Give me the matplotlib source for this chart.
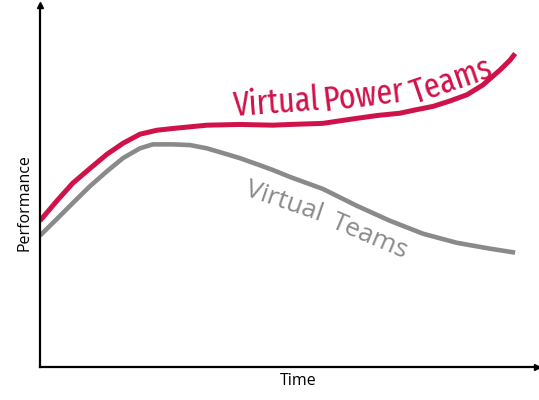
import matplotlib
matplotlib.use("Agg")
import matplotlib.pyplot as plt

# values (time 0-100, performance 0-100)
time_power = [0, 3.4, 6.6, 10.1, 13.5, 16.7, 20.1, 23.5, 26.8, 33.6, 40.2, 46.9,
              50.3, 56.9, 63.8, 68.0, 72.4, 75.8, 79.1, 82.5, 85.9, 89.1, 92.6, 94.6, 95.6]
perf_power = [40.4, 45.9, 50.8, 54.9, 58.8, 61.8, 64.3, 65.4, 65.9, 66.8, 67.0, 66.8,
              67.0, 67.3, 68.7, 69.5, 70.1, 71.1, 72.0, 73.5, 75.2, 77.9, 82.1, 84.8, 86.6]

time_virtual = [0, 3.4, 6.6, 10.1, 13.5, 16.7, 20.1, 22.7, 26.8, 30.2, 33.6, 36.8,
                40.2, 43.7, 46.9, 50.3, 56.9, 63.8, 70.4, 77.1, 83.9, 90.5, 95.6]
perf_virtual = [36.3, 40.9, 45.3, 50.0, 54.1, 57.7, 60.4, 61.5, 61.5, 61.3, 60.4, 59.1,
                57.7, 56.0, 54.4, 52.5, 49.2, 44.5, 40.4, 36.8, 34.3, 32.7, 31.6]

red = '#d0124a'
grey = '#8a8a8a'

fig = plt.figure(figsize=(5.39, 4.0), dpi=100)
ax = fig.add_axes([40 / 539, 33 / 400, 497 / 539, 362 / 400])
ax.set_xlim(0, 100)
ax.set_ylim(0, 100)

ax.plot(time_power, perf_power, color=red, lw=3.6,
        solid_capstyle='butt', solid_joinstyle='round')
ax.plot(time_virtual, perf_virtual, color=grey, lw=3.3,
        solid_capstyle='butt', solid_joinstyle='round')

# axes with arrow heads
for s in ['top', 'right']:
    ax.spines[s].set_visible(False)
for s in ['left', 'bottom']:
    ax.spines[s].set_linewidth(1.6)
ax.set_xticks([])
ax.set_yticks([])
ax.plot(1, 0, '>k', ms=5, transform=ax.transAxes, clip_on=False)
ax.plot(0, 1, '^k', ms=5, transform=ax.transAxes, clip_on=False)

# curve labels, word by word to follow the lines
red_font = ['Fira Sans Extra Condensed', 'DejaVu Sans']
ax.text(39.0, 69.2, 'Virtual', color=red, fontsize=25, family=red_font, weight=400,
        rotation=4, rotation_mode='anchor', ha='left', va='baseline')
ax.text(57.2, 70.8, 'Power', color=red, fontsize=25, family=red_font, weight=400,
        rotation=7, rotation_mode='anchor', ha='left', va='baseline')
ax.text(75.4, 72.6, 'Teams', color=red, fontsize=25, family=red_font, weight=400,
        rotation=19, rotation_mode='anchor', ha='left', va='baseline')

grey_font = ['Open Sans', 'DejaVu Sans']
ax.text(41.0, 47.5, 'Virtual', color=grey, fontsize=19, family=grey_font,
        rotation=-19, rotation_mode='anchor', ha='left', va='baseline')
ax.text(58.4, 38.7, 'Teams', color=grey, fontsize=19, family=grey_font,
        rotation=-23, rotation_mode='anchor', ha='left', va='baseline')

ax.text(-0.031, 0.455, 'Performance', transform=ax.transAxes, fontsize=11.5,
        family=grey_font, rotation=90, ha='center', va='center')
ax.text(0.519, -0.04, 'Time', transform=ax.transAxes, fontsize=11.5,
        family=grey_font, ha='center', va='center')

fig.savefig('out.png', dpi=100)
